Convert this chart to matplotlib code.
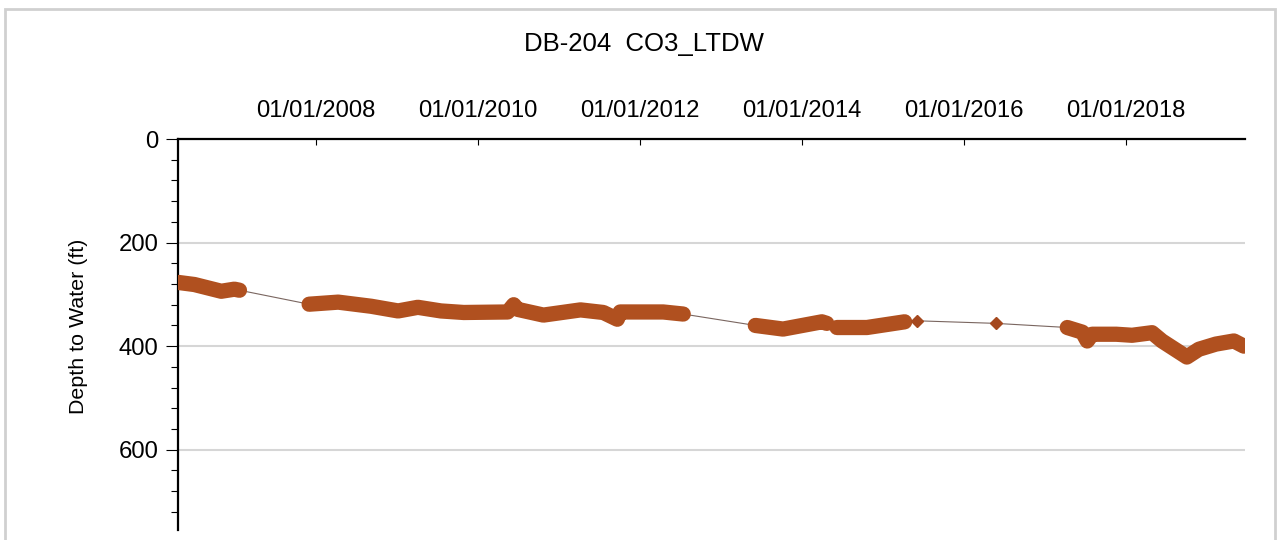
import numpy as np
import pandas as pd
import matplotlib.pyplot as plt
import matplotlib.dates as mdates
from matplotlib.ticker import MultipleLocator
from matplotlib.patches import Rectangle

plt.rcParams['font.family'] = ['Liberation Sans', 'DejaVu Sans']

TITLE = 'DB-204  CO3_LTDW'
YLABEL = 'Depth to Water (ft)'

# readings, grouped into logging runs
dates = ['2006-04-22', '2006-07-03', '2006-11-01', '2006-12-30', '2007-01-22',
         '2007-12-02', '2008-04-11', '2008-09-07', '2009-01-06', '2009-04-05',
         '2009-07-18', '2009-10-29', '2010-05-15', '2010-06-11', '2010-06-29',
         '2010-10-23', '2011-04-08', '2011-07-20', '2011-09-21', '2011-10-04',
         '2012-04-15', '2012-07-14',
         '2013-06-04', '2013-10-07', '2014-03-31', '2014-04-22',
         '2014-06-07', '2014-10-20', '2015-04-08',
         '2015-06-01',
         '2016-05-22',
         '2017-04-10', '2017-06-17', '2017-07-09', '2017-07-31', '2017-11-17',
         '2018-01-27', '2018-04-27', '2018-06-11', '2018-10-01', '2018-11-24',
         '2019-02-09', '2019-05-01', '2019-06-15']
depth = [277, 281, 294, 290, 292,
         319, 315, 323, 332, 325,
         332, 335, 334, 320, 329,
         340, 330, 335, 348, 334,
         334, 338,
         360, 367, 353, 356,
         364, 364, 353,
         351,
         356,
         364, 373, 390, 377, 377,
         379, 374, 390, 421, 406,
         396, 390, 400]
run = [1] * 5 + [2] * 17 + [3] * 4 + [4] * 3 + [5] + [6] + [7] * 13

df = pd.DataFrame({'date': pd.to_datetime(dates), 'depth': depth, 'run': run})

MARK = '#B0501F'

fig = plt.figure(figsize=(12.81, 5.40), dpi=100)
ax = fig.add_axes([178 / 1281, 10 / 540, (1245 - 178) / 1281, (530 - 139) / 540])

# thin connecting line through everything
ax.plot(df['date'], df['depth'], color='#7a6660', lw=0.8, zorder=3)

for r, g in df.groupby('run'):
    if len(g) > 1:
        ax.plot(g['date'], g['depth'], color=MARK, lw=11,
                solid_capstyle='round', solid_joinstyle='round', zorder=4)
    else:
        ax.plot(g['date'], g['depth'], 'D', color='#A5481E', ms=6.5, zorder=4)

ax.set_xlim(pd.Timestamp('2006-04-20'), pd.Timestamp('2019-06-20'))
ax.set_ylim(755, 0)

ax.xaxis.set_major_locator(mdates.YearLocator(2))
ax.xaxis.set_major_formatter(mdates.DateFormatter('%m/%d/%Y'))
ax.xaxis.tick_top()
ax.tick_params(axis='x', direction='in', length=4, width=0.8, pad=12, labelsize=17.2)

ax.yaxis.set_major_locator(MultipleLocator(200))
ax.yaxis.set_minor_locator(MultipleLocator(40))
ax.tick_params(axis='y', which='major', direction='out', length=9, width=0.8,
               pad=5, labelsize=17.2)
ax.tick_params(axis='y', which='minor', direction='out', length=5, width=0.8)

ax.yaxis.grid(True, which='major', color='#d6d6d6', lw=1.5)
ax.set_axisbelow(True)

for s in ['right', 'bottom']:
    ax.spines[s].set_visible(False)
for s in ['top', 'left']:
    ax.spines[s].set_linewidth(1.6)
    ax.spines[s].set_color('black')

ax.set_ylabel(YLABEL, fontsize=15.4)
ax.yaxis.set_label_coords(-(178 - 88) / (1245 - 178), 0.52)

fig.text(0.503, 0.919, TITLE, ha='center', va='center', fontsize=18.5)

# light frame around the figure
fig.patches.append(Rectangle((5 / 1281, -0.1), 1270 / 1281, 1.1 - 9 / 540,
                             transform=fig.transFigure, fill=False,
                             edgecolor='#d0d0d0', lw=2))

fig.savefig('out.png', dpi=100)
